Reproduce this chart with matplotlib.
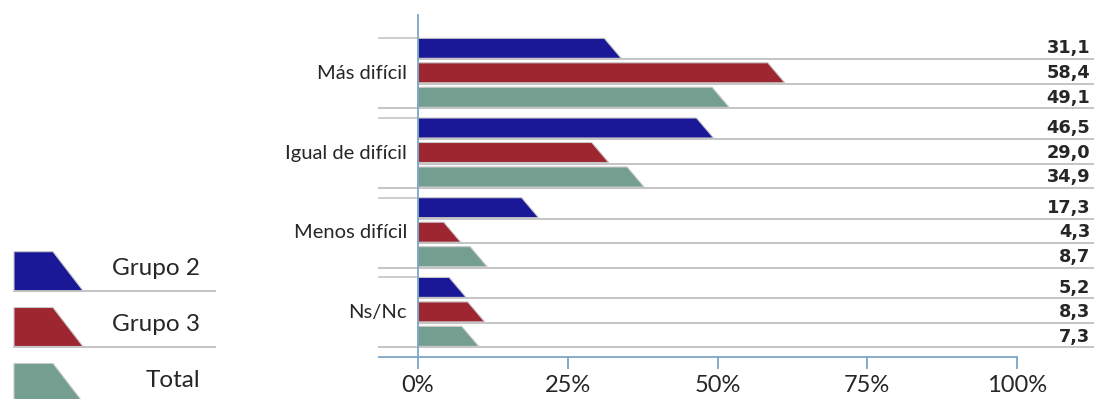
import matplotlib
matplotlib.use("Agg")
import matplotlib.pyplot as plt
from matplotlib.patches import Polygon

categories = ["Más difícil", "Igual de difícil", "Menos difícil", "Ns/Nc"]
series = ["Grupo 2", "Grupo 3", "Total"]
grupo2 = [31.1, 46.5, 17.3, 5.2]
grupo3 = [58.4, 29.0, 4.3, 8.3]
total = [49.1, 34.9, 8.7, 7.3]
xticks = [0, 25, 50, 75, 100]
xticklabels = ["0%", "25%", "50%", "75%", "100%"]

colors = ["#1a1896", "#9e2630", "#739e90"]
values = [grupo2, grupo3, total]

W, H = 1095, 399
fig = plt.figure(figsize=(W / 100, H / 100), dpi=100)
FONT = ["Lato", "DejaVu Sans"]
VFONT = ["DejaVu Sans"]
TXT = "#262626"
AXC = "#7ca6c6"
GRID = "#c4c4c4"

# main axes: x 0..100 -> px 418..1017 ; y in px from top
x0, x1 = 418, 1017
ybot, ytop = 356.7, 15
ax = fig.add_axes([x0 / W, (H - ybot) / H, (x1 - x0) / W, (ybot - ytop) / H])
ax.set_xlim(0, 100)
ax.set_ylim(ybot, ytop)
for s in ax.spines.values():
    s.set_visible(False)
ax.set_yticks([])

pxpct = (x1 - x0) / 100.0
slant = 17 / pxpct
group_top0, group_pitch, bar_pitch, bar_h = 38.3, 79.7, 24.5, 21.0
left_ext = -(x0 - 379) / pxpct
right_ext = (1093 - x0) / pxpct
label_x = (1090 - x0) / pxpct

for g, cat in enumerate(categories):
    gtop = group_top0 + g * group_pitch
    # group top short line
    ax.plot([left_ext, 0], [gtop, gtop], color=GRID, lw=1.2, clip_on=False, zorder=1)
    for j in range(len(series)):
        v = values[j][g]
        top = gtop + j * bar_pitch
        bot = top + bar_h
        start = left_ext if j == len(series) - 1 else 0
        ax.plot([start, right_ext], [bot, bot], color=GRID, lw=1.4, clip_on=False, zorder=1)
        poly = Polygon([(0, top), (v, top), (v + slant, bot - 1), (0, bot - 1)],
                       closed=True, facecolor=colors[j], edgecolor="#c8c8c8",
                       lw=0.8, zorder=3, clip_on=False)
        ax.add_patch(poly)
        ax.text(label_x, bot - 1.8, f"{v:.1f}".replace(".", ","), ha="right", va="bottom",
                fontsize=12.8, fontweight="bold", color=TXT, family=VFONT, clip_on=False)
    mid = gtop + bar_pitch + bar_h / 2
    ax.text(-(x0 - 407) / pxpct, mid, cat, ha="right", va="center", fontsize=14.5,
            color=TXT, family=FONT)

# axes lines
ax.plot([left_ext, 100], [ybot, ybot], color=AXC, lw=1.3, clip_on=False, zorder=4)
ax.plot([0, 0], [ytop, ybot], color=AXC, lw=1.3, clip_on=False, zorder=5)
ax.set_xticks(xticks)
ax.set_xticklabels(xticklabels, family=FONT, fontsize=17, color=TXT)
ax.tick_params(axis="x", direction="out", length=8.5, width=1.3, color=AXC, pad=5)

# legend
lax = fig.add_axes([0, 0, 230 / W, 1])
lax.set_xlim(0, 230)
lax.set_ylim(H, 0)
lax.axis("off")
leg_tops = [251.7, 307.5, 363.5]
for j, name in enumerate(series):
    t = leg_tops[j]
    b = t + 39
    lax.add_patch(Polygon([(14, t), (53, t), (83, b), (14, b)], closed=True,
                          facecolor=colors[j], edgecolor="#c8c8c8", lw=0.8, zorder=3))
    if j < len(series) - 1:
        lax.plot([14, 215], [b + 0.5, b + 0.5], color=GRID, lw=1.4, zorder=1)
    lax.text(200, t + 17, name, ha="right", va="center", fontsize=17.5,
             color=TXT, family=FONT)

fig.savefig("out.png", dpi=100)
